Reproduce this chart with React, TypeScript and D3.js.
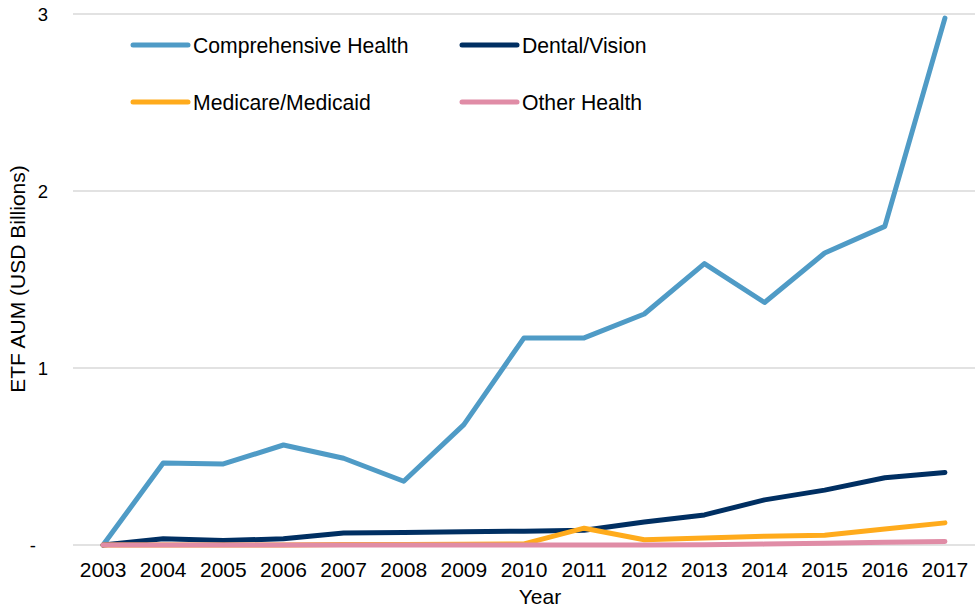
import React from "react";
import * as d3 from "d3";

const years = ["2003","2004","2005","2006","2007","2008","2009","2010","2011","2012","2013","2014","2015","2016","2017"];
const comprehensive = [0, 0.463, 0.458, 0.565, 0.49, 0.36, 0.68, 1.17, 1.17, 1.305, 1.59, 1.37, 1.65, 1.8, 2.977];
const dental = [0, 0.035, 0.025, 0.035, 0.068, 0.07, 0.075, 0.078, 0.083, 0.13, 0.17, 0.255, 0.31, 0.38, 0.41];
const medicare = [0, 0, 0, 0, 0.003, 0.003, 0.004, 0.006, 0.095, 0.03, 0.04, 0.05, 0.055, 0.09, 0.125];
const otherHealth = [0, 0, 0, 0, 0, 0, 0, 0, 0, 0, 0.002, 0.005, 0.01, 0.015, 0.02];
const yTicks = [0, 1, 2, 3];
const yTickLabels = ["-", "1", "2", "3"];

const series = [
  { name: "Comprehensive Health", values: comprehensive, color: "#4F9BC6" },
  { name: "Dental/Vision", values: dental, color: "#002F62" },
  { name: "Medicare/Medicaid", values: medicare, color: "#FFAB1C" },
  { name: "Other Health", values: otherHealth, color: "#E08CA6" },
];

const W = 980, H = 608;
const left = 73, right = 975, top = 14, bottom = 545;
const FONT = "'Liberation Sans', Arial, sans-serif";

export default function App() {
  const x = d3.scaleBand().domain(years).range([left, right]);
  const y = d3.scaleLinear().domain([0, 3]).range([bottom, top]);
  const line = d3.line<number>()
    .x((_, i) => (x(years[i]) as number) + x.bandwidth() / 2)
    .y((d) => y(d));

  const legendPos = [
    { lx: 133, ly: 45 },
    { lx: 462, ly: 45 },
    { lx: 133, ly: 102 },
    { lx: 462, ly: 102 },
  ];

  return (
    <svg width={W} height={H} style={{ position: "absolute", left: 0, top: 0 }} fontFamily={FONT}>
      <rect width={W} height={H} fill="#fff" />
      {yTicks.map((t, i) => (
        <g key={t}>
          <line x1={left} x2={right} y1={y(t)} y2={y(t)} stroke="#D9D9D9" strokeWidth={1.5} />
          <text x={t === 0 ? 36 : 48} y={y(t)} dy="0.36em" textAnchor="end" fontSize={18.5} fill="#000">{yTickLabels[i]}</text>
        </g>
      ))}
      {years.map((yr) => (
        <text key={yr} x={(x(yr) as number) + x.bandwidth() / 2} y={577} textAnchor="middle" fontSize={21} fill="#000">{yr}</text>
      ))}
      <text x={540} y={604} textAnchor="middle" fontSize={21} fill="#000">Year</text>
      <text transform={`translate(25,279) rotate(-90)`} textAnchor="middle" fontSize={21} fill="#000">ETF AUM (USD Billions)</text>
      {series.map((s) => (
        <path key={s.name} d={line(s.values) || ""} fill="none" stroke={s.color} strokeWidth={5} strokeLinecap="round" strokeLinejoin="round" />
      ))}
      {series.map((s, i) => (
        <g key={s.name + "-lg"}>
          <line x1={legendPos[i].lx} x2={legendPos[i].lx + 55} y1={legendPos[i].ly} y2={legendPos[i].ly} stroke={s.color} strokeWidth={5} strokeLinecap="round" />
          <text x={legendPos[i].lx + 60} y={legendPos[i].ly} dy="0.36em" fontSize={21.2} fill="#000">{s.name}</text>
        </g>
      ))}
    </svg>
  );
}
